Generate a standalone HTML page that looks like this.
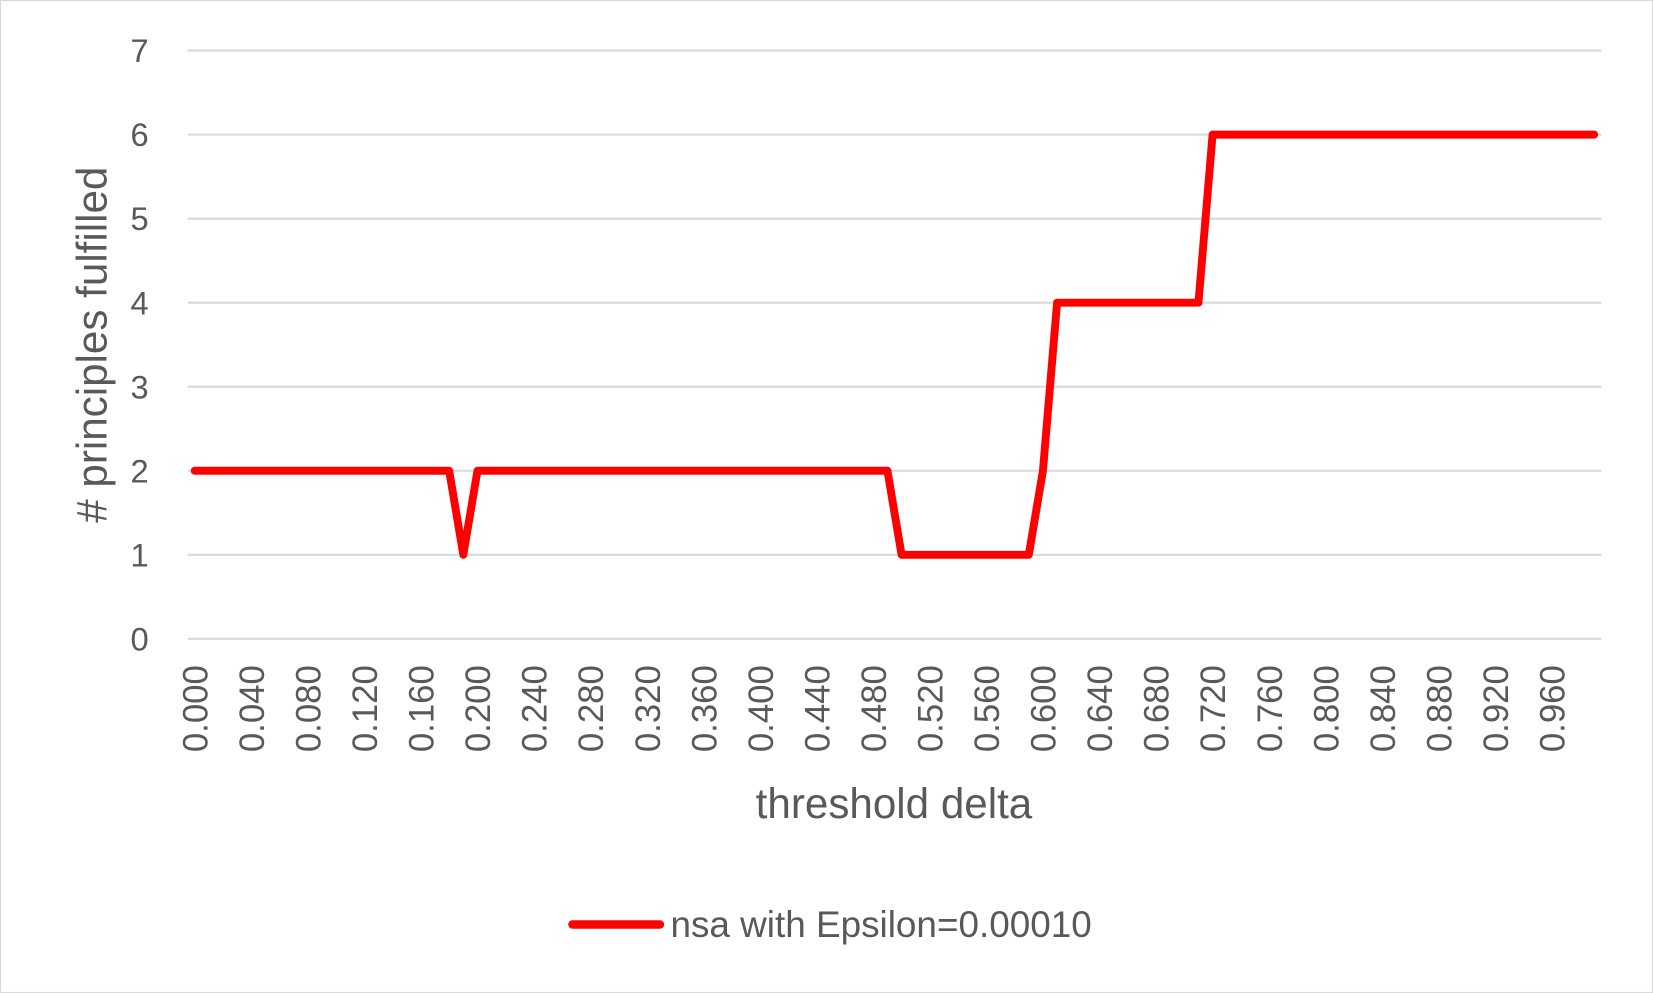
<!DOCTYPE html>
<html><head><meta charset="utf-8"><style>
html,body{margin:0;padding:0;background:#fff;}
svg{display:block;font-family:"Liberation Sans",sans-serif;}
</style></head><body>
<svg id="chart" width="1653" height="993" viewBox="0 0 1568 942" preserveAspectRatio="none" xmlns="http://www.w3.org/2000/svg">
<rect x="0.5" y="0.5" width="1567" height="941" fill="#fff" stroke="#d9d9d9" stroke-width="1"/>
<g id="grid"></g><g id="yt"></g><g id="xt"></g>
<text transform="translate(101,327) rotate(-90)" text-anchor="middle" font-size="40" fill="#595959">
# principles fulfilled</text>
<text x="848" y="776" text-anchor="middle" font-size="40" fill="#595959">threshold delta</text>
<g>
<line x1="543" y1="877" x2="626" y2="877" stroke="#ff0000" stroke-width="8" stroke-linecap="round"/>
<text x="636" y="889" font-size="35" fill="#595959">nsa with Epsilon=0.00010</text>
</g>
<polyline id="series" fill="none" stroke="#ff0000" stroke-width="7.5" stroke-linejoin="round" stroke-linecap="round"/>
</svg>
<script>
const categories = [];
for (let i = 0; i < 100; i++) categories.push((i/100).toFixed(3));
const values = [
2,2,2,2,2,2,2,2,2,2, 2,2,2,2,2,2,2,2,2,1,
2,2,2,2,2,2,2,2,2,2, 2,2,2,2,2,2,2,2,2,2,
2,2,2,2,2,2,2,2,2,2, 1,1,1,1,1,1,1,1,1,1,
2,4,4,4,4,4,4,4,4,4, 4,4,6,6,6,6,6,6,6,6,
6,6,6,6,6,6,6,6,6,6, 6,6,6,6,6,6,6,6,6,6];
const yTicks = [0,1,2,3,4,5,6,7];
const NS="http://www.w3.org/2000/svg";
const L=178,R=1519,Y0=606,Y7=48;
const bw=(R-L)/categories.length;
const xs=i=>L+bw*(i+0.5);
const ys=v=>Y0-(Y0-Y7)*v/7;
const grid=document.getElementById('grid'),yt=document.getElementById('yt'),xt=document.getElementById('xt');
yTicks.forEach(t=>{
  const l=document.createElementNS(NS,'line');
  
  
  l.setAttribute('x1',L);l.setAttribute('x2',R);l.setAttribute('y1',ys(t));l.setAttribute('y2',ys(t));
  l.setAttribute('stroke','#d9d9d9');l.setAttribute('stroke-width','2');
  grid.appendChild(l);
  const tx=document.createElementNS(NS,'text');
  
  
  tx.setAttribute('x',141);tx.setAttribute('y',ys(t)+11);tx.setAttribute('text-anchor','end');
  tx.setAttribute('font-size','31');tx.setAttribute('fill','#595959');tx.textContent=t;
  yt.appendChild(tx);
});
categories.forEach((c,i)=>{
  if(i%4) return;
  const tx=document.createElementNS(NS,'text');
  
  
  const x=xs(i)+12,y=631;
  tx.setAttribute('transform','translate('+x+','+y+') rotate(-90)');
  tx.setAttribute('text-anchor','end');
  tx.setAttribute('font-size','33');tx.setAttribute('fill','#595959');tx.textContent=c;
  xt.appendChild(tx);
});
document.getElementById('series').setAttribute('points',values.map((v,i)=>xs(i)+','+ys(v)).join(' '));
</script>
</body></html>
